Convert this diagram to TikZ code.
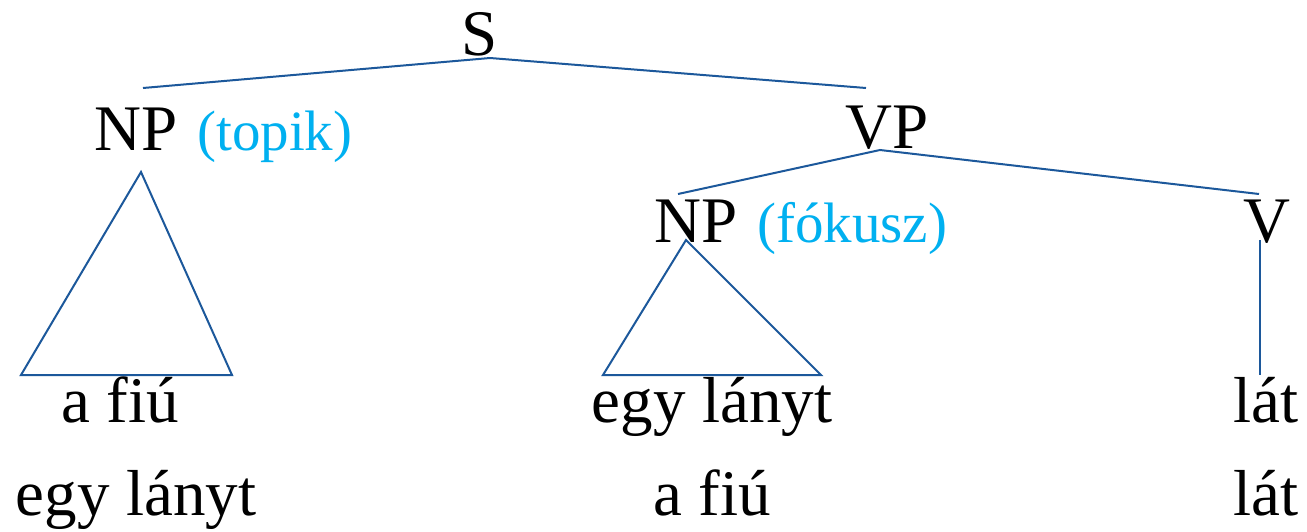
\documentclass[tikz,border=0pt]{standalone}
\usepackage{fontspec}
\setmainfont{Liberation Serif}
\definecolor{linecol}{RGB}{28,88,155}
\definecolor{labcol}{RGB}{0,176,240}
\begin{document}
\begin{tikzpicture}[x=1pt,y=-1pt,
  lab/.style={anchor=base,inner sep=0pt,font=\fontsize{65}{70}\selectfont},
  note/.style={anchor=base west,inner sep=0pt,text=labcol,font=\fontsize{57}{60}\selectfont},
  edge/.style={draw=linecol,line width=2pt}]
\useasboundingbox[fill=white] (0,0) rectangle (1307,531);
% labels
\node[lab] (S) at (480,55) {S};
\node[lab] (NP1) at (136,150) {NP};
\node[note] (top) at (197,150) {(topik)};
\node[lab] (VP) at (887,148) {VP};
\node[lab] (NP2) at (696,242) {NP};
\node[note] (fok) at (757,242) {(fókusz)};
\node[lab] (V) at (1267,242) {V};
\node[lab] (w1) at (120,422) {a fiú};
\node[lab] (w2) at (712,422) {egy lányt};
\node[lab] (w3) at (1266,422) {lát};
\node[lab] (r1) at (136,515) {egy lányt};
\node[lab] (r2) at (712,515) {a fiú};
\node[lab] (r3) at (1266,515) {lát};
% connector points
\coordinate (Sb) at (490,58);
\coordinate (NP1t) at (143,88);
\coordinate (VPt) at (866,88);
\coordinate (VPb) at (880,150);
\coordinate (NP2t) at (678,194);
\coordinate (Vt) at (1259,194);
\coordinate (T1a) at (141,172);
\coordinate (T1l) at (21,375);
\coordinate (T1r) at (232,375);
\coordinate (T2a) at (686,240);
\coordinate (T2l) at (603,375);
\coordinate (T2r) at (821,375);
\coordinate (Vb) at (1260,240);
\coordinate (Ve) at (1260,375);
\draw[edge] (NP1t) -- (Sb) -- (VPt);
\draw[edge] (NP2t) -- (VPb) -- (Vt);
\draw[edge] (T1a) -- (T1l) -- (T1r) -- cycle;
\draw[edge] (T2a) -- (T2l) -- (T2r) -- cycle;
\draw[edge] (Vb) -- (Ve);
\end{tikzpicture}
\end{document}
